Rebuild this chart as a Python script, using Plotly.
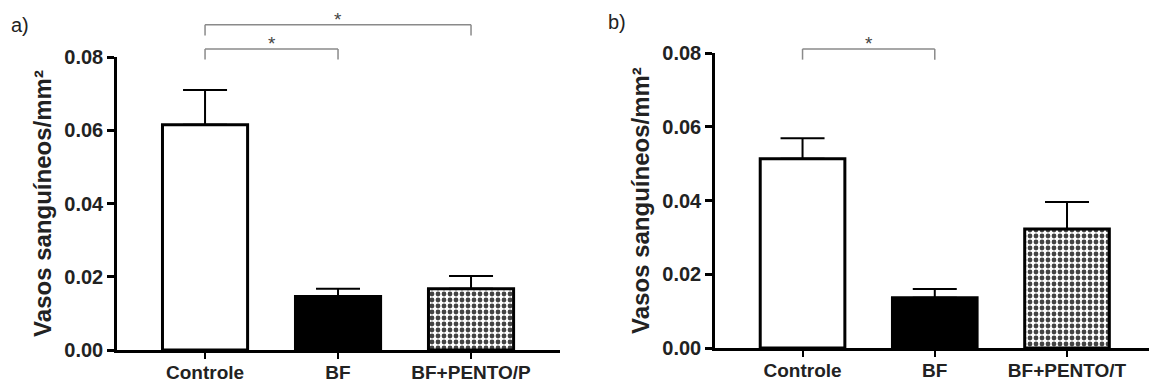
import plotly.graph_objects as go

# ---- data ----
categories_a = ["Controle", "BF", "BF+PENTO/P"]
means_a = [0.0615, 0.0146, 0.0167]
sem_a = [0.0095, 0.0021, 0.0035]

categories_b = ["Controle", "BF", "BF+PENTO/T"]
means_b = [0.0513, 0.0136, 0.0323]
sem_b = [0.0056, 0.0024, 0.0073]

y_ticks = [0.00, 0.02, 0.04, 0.06, 0.08]
y_tick_labels = ["0.00", "0.02", "0.04", "0.06", "0.08"]
y_title = "Vasos sanguíneos/mm²"

# significance brackets: (from category index, to category index, height, label)
brackets_a = [(0, 1, 0.0822, "*"), (0, 2, 0.0888, "*")]
brackets_b = [(0, 1, 0.0811, "*")]

YMAX = 0.08
LEG = 0.0029

FONT = "Liberation Sans, Arial, sans-serif"

fills = ["white", "black", "white"]
patterns = ["", "", "."]

fig = go.Figure()


def add_panel(cats, means, sems, xa, ya):
    fig.add_trace(go.Bar(
        x=cats, y=means, xaxis=xa, yaxis=ya, width=0.64,
        marker=dict(color=fills, line=dict(color="black", width=3),
                    pattern=dict(shape=patterns, fgcolor="black", fgopacity=1,
                                 size=6, solidity=0.5, fillmode="overlay")),
        error_y=dict(type="data", array=sems, arrayminus=[0] * len(sems),
                     symmetric=False, color="black", thickness=2, width=22),
        showlegend=False,
    ))


add_panel(categories_a, means_a, sem_a, "x", "y")
add_panel(categories_b, means_b, sem_b, "x2", "y2")

shapes = []
annotations = []


def add_brackets(brs, xref, yref):
    for i0, i1, h, lab in brs:
        hd = h / YMAX
        ld = (h - LEG) / YMAX
        line = dict(color="#8a8a8a", width=1.5)
        shapes.append(dict(type="line", xref=xref, yref=yref + " domain",
                           x0=i0, x1=i1, y0=hd, y1=hd, line=line))
        shapes.append(dict(type="line", xref=xref, yref=yref + " domain",
                           x0=i0, x1=i0, y0=hd, y1=ld, line=line))
        shapes.append(dict(type="line", xref=xref, yref=yref + " domain",
                           x0=i1, x1=i1, y0=hd, y1=ld, line=line))
        annotations.append(dict(xref=xref, yref=yref + " domain", x=(i0 + i1) / 2,
                                y=hd, text=lab, showarrow=False, yanchor="bottom",
                                yshift=-7, font=dict(family=FONT, size=19, color="#444")))


add_brackets(brackets_a, "x", "y")
add_brackets(brackets_b, "x2", "y2")

annotations.append(dict(xref="paper", yref="paper", x=0.008, y=0.935, xanchor="left",
                        yanchor="middle", text="a)", showarrow=False,
                        font=dict(family=FONT, size=20, color="#222")))
annotations.append(dict(xref="paper", yref="paper", x=0.527, y=0.943, xanchor="left",
                        yanchor="middle", text="b)", showarrow=False,
                        font=dict(family=FONT, size=20, color="#222")))

xcommon = dict(type="category", showline=True, linecolor="black", linewidth=2.5,
               ticks="outside", ticklen=6, tickwidth=2, tickcolor="black",
               tickfont=dict(family=FONT, size=19, color="#222"),
               ticklabelstandoff=-3,
               tickprefix="<b>", ticksuffix="</b>", automargin=False,
               showgrid=False, zeroline=False, fixedrange=True)
ycommon = dict(range=[0, YMAX], tickvals=y_ticks,
               ticktext=["<b>" + t + "</b>" for t in y_tick_labels],
               showline=True, linecolor="black", linewidth=2.5,
               ticks="outside", ticklen=7, tickwidth=2.5, tickcolor="black",
               tickfont=dict(family=FONT, size=20, color="#222"),
               showgrid=False, zeroline=False, automargin=False,
               title=dict(text="<b>" + y_title + "</b>", standoff=6,
                          font=dict(family=FONT, size=24, color="#222")))

W, H = 1149, 383
fig.update_layout(
    width=W, height=H,
    margin=dict(l=0, r=0, t=0, b=0),
    paper_bgcolor="white", plot_bgcolor="white",
    font=dict(family=FONT),
    xaxis=dict(xcommon, domain=[117 / W, 560 / W], range=[-0.662, 2.669], anchor="y"),
    yaxis=dict(ycommon, domain=[1 - 350 / H, 1 - 57 / H], anchor="x"),
    xaxis2=dict(xcommon, domain=[715 / W, 1.0], range=[-0.662, 2.62], anchor="y2"),
    yaxis2=dict(ycommon, domain=[1 - 348 / H, 1 - 53 / H], anchor="x2"),
    shapes=shapes,
    annotations=annotations,
)

fig.write_html("out.html")
